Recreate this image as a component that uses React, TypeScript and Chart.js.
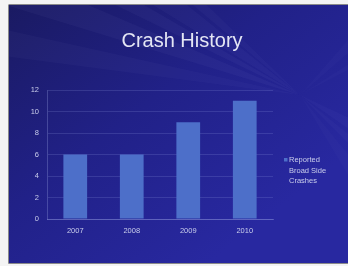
import React, { useEffect, useRef } from "react";
import { Chart, registerables } from "chart.js";

Chart.register(...registerables);

const categories = ["2007", "2008", "2009", "2010"];
const crashes = [6, 6, 9, 11];
const seriesLabel = "Reported Broad Side Crashes";
const titleText = "Crash History";
const yMax = 12;
const yStep = 2;

const FONT = "'Liberation Sans', Arial, sans-serif";
const BAR = "#4d6fc9";
const TEXT = "#c9cdeb";

const backgroundPlugin = {
  id: "slideBg",
  beforeDraw(chart: any) {
    const { ctx, width } = chart;
    ctx.save();
    ctx.fillStyle = "#f4f4f4";
    ctx.fillRect(0, 0, width, chart.height);
    const x0 = 9, y0 = 5, x1 = width, y1 = 263;
    const g = ctx.createLinearGradient(x0, y0, x1 * 0.6, y1);
    g.addColorStop(0, "#1a1a62");
    g.addColorStop(0.5, "#212188");
    g.addColorStop(1, "#2828a0");
    ctx.fillStyle = g;
    ctx.fillRect(x0, y0, x1 - x0, y1 - y0);
    ctx.beginPath();
    ctx.rect(x0, y0, x1 - x0, y1 - y0);
    ctx.clip();
    const cx = 300, cy = 95;
    const beams = [
      [200, 6, 0.04], [208, 4, 0.04], [215, 7, 0.035], [222, 4, 0.03],
      [190, 5, 0.03], [30, 10, 0.03], [42, 6, 0.025], [55, 8, 0.02],
      [315, 8, 0.02], [330, 5, 0.02],
    ];
    for (const [ang, spread, a] of beams) {
      const r1 = ((ang - spread / 2) * Math.PI) / 180;
      const r2 = ((ang + spread / 2) * Math.PI) / 180;
      ctx.beginPath();
      ctx.moveTo(cx, cy);
      ctx.lineTo(cx + Math.cos(r1) * 600, cy + Math.sin(r1) * 600);
      ctx.lineTo(cx + Math.cos(r2) * 600, cy + Math.sin(r2) * 600);
      ctx.closePath();
      ctx.fillStyle = `rgba(200,200,255,${a})`;
      ctx.fill();
    }
    ctx.restore();
    ctx.save();
    ctx.strokeStyle = "#8a8a8a";
    ctx.lineWidth = 1;
    ctx.beginPath();
    ctx.moveTo(x0 - 0.5, y0);
    ctx.lineTo(x0 - 0.5, y1 + 0.5);
    ctx.lineTo(x1, y1 + 0.5);
    ctx.moveTo(x0 - 0.5, y0 - 0.5);
    ctx.lineTo(x1, y0 - 0.5);
    ctx.stroke();
    ctx.font = `20px ${FONT}`;
    ctx.fillStyle = "#e4e6f4";
    ctx.textAlign = "center";
    ctx.textBaseline = "middle";
    ctx.fillText(titleText, 182, 41);
    ctx.restore();
  },
};

const legendPlugin = {
  id: "sideLegend",
  afterDraw(chart: any) {
    const { ctx, chartArea } = chart;
    const ds = chart.data.datasets[0];
    ctx.save();
    ctx.font = `7.5px ${FONT}`;
    ctx.textBaseline = "middle";
    const words = String(ds.label).split(" ");
    const lines: string[] = [];
    let cur = "";
    for (const w of words) {
      const t = cur ? cur + " " + w : w;
      if (ctx.measureText(t).width > 40 && cur) {
        lines.push(cur);
        cur = w;
      } else cur = t;
    }
    if (cur) lines.push(cur);
    const lx = chartArea.right + 11;
    const ly = 160;
    ctx.fillStyle = ds.backgroundColor;
    ctx.fillRect(lx, ly - 2, 3.5, 3.5);
    ctx.fillStyle = TEXT;
    lines.forEach((l, i) => ctx.fillText(l, lx + 5, ly + i * 10.5));
    ctx.restore();
  },
};

export default function App() {
  const ref = useRef<HTMLCanvasElement | null>(null);
  useEffect(() => {
    document.body.style.margin = "0";
    const chart = new Chart(ref.current as HTMLCanvasElement, {
      type: "bar",
      data: {
        labels: categories,
        datasets: [
          {
            label: seriesLabel,
            data: crashes,
            backgroundColor: BAR,
            barPercentage: 0.42,
            categoryPercentage: 1,
          },
        ],
      },
      options: {
        animation: false,
        responsive: false,
        layout: { padding: { left: 27, right: 75, top: 90, bottom: 17 } },
        plugins: {
          legend: { display: false },
          tooltip: { enabled: false },
          title: { display: false },
        },
        scales: {
          x: {
            afterFit: (s: any) => { s.height = 30; },
            grid: { display: false, drawTicks: false },
            border: { color: "rgba(160,170,230,0.35)" },
            ticks: { color: TEXT, font: { family: FONT, size: 7.5 }, padding: 7 },
          },
          y: {
            min: 0,
            max: yMax,
            afterFit: (s: any) => { s.width = 20; },
            ticks: {
              stepSize: yStep,
              color: TEXT,
              font: { family: FONT, size: 7.5 },
              padding: 8,
            },
            grid: { color: "rgba(160,170,240,0.18)", drawTicks: false },
            border: { color: "rgba(160,170,230,0.3)" },
          },
        },
      },
      plugins: [backgroundPlugin, legendPlugin],
    });
    return () => chart.destroy();
  }, []);
  return <canvas ref={ref} width={348} height={266} style={{ display: "block" }} />;
}
